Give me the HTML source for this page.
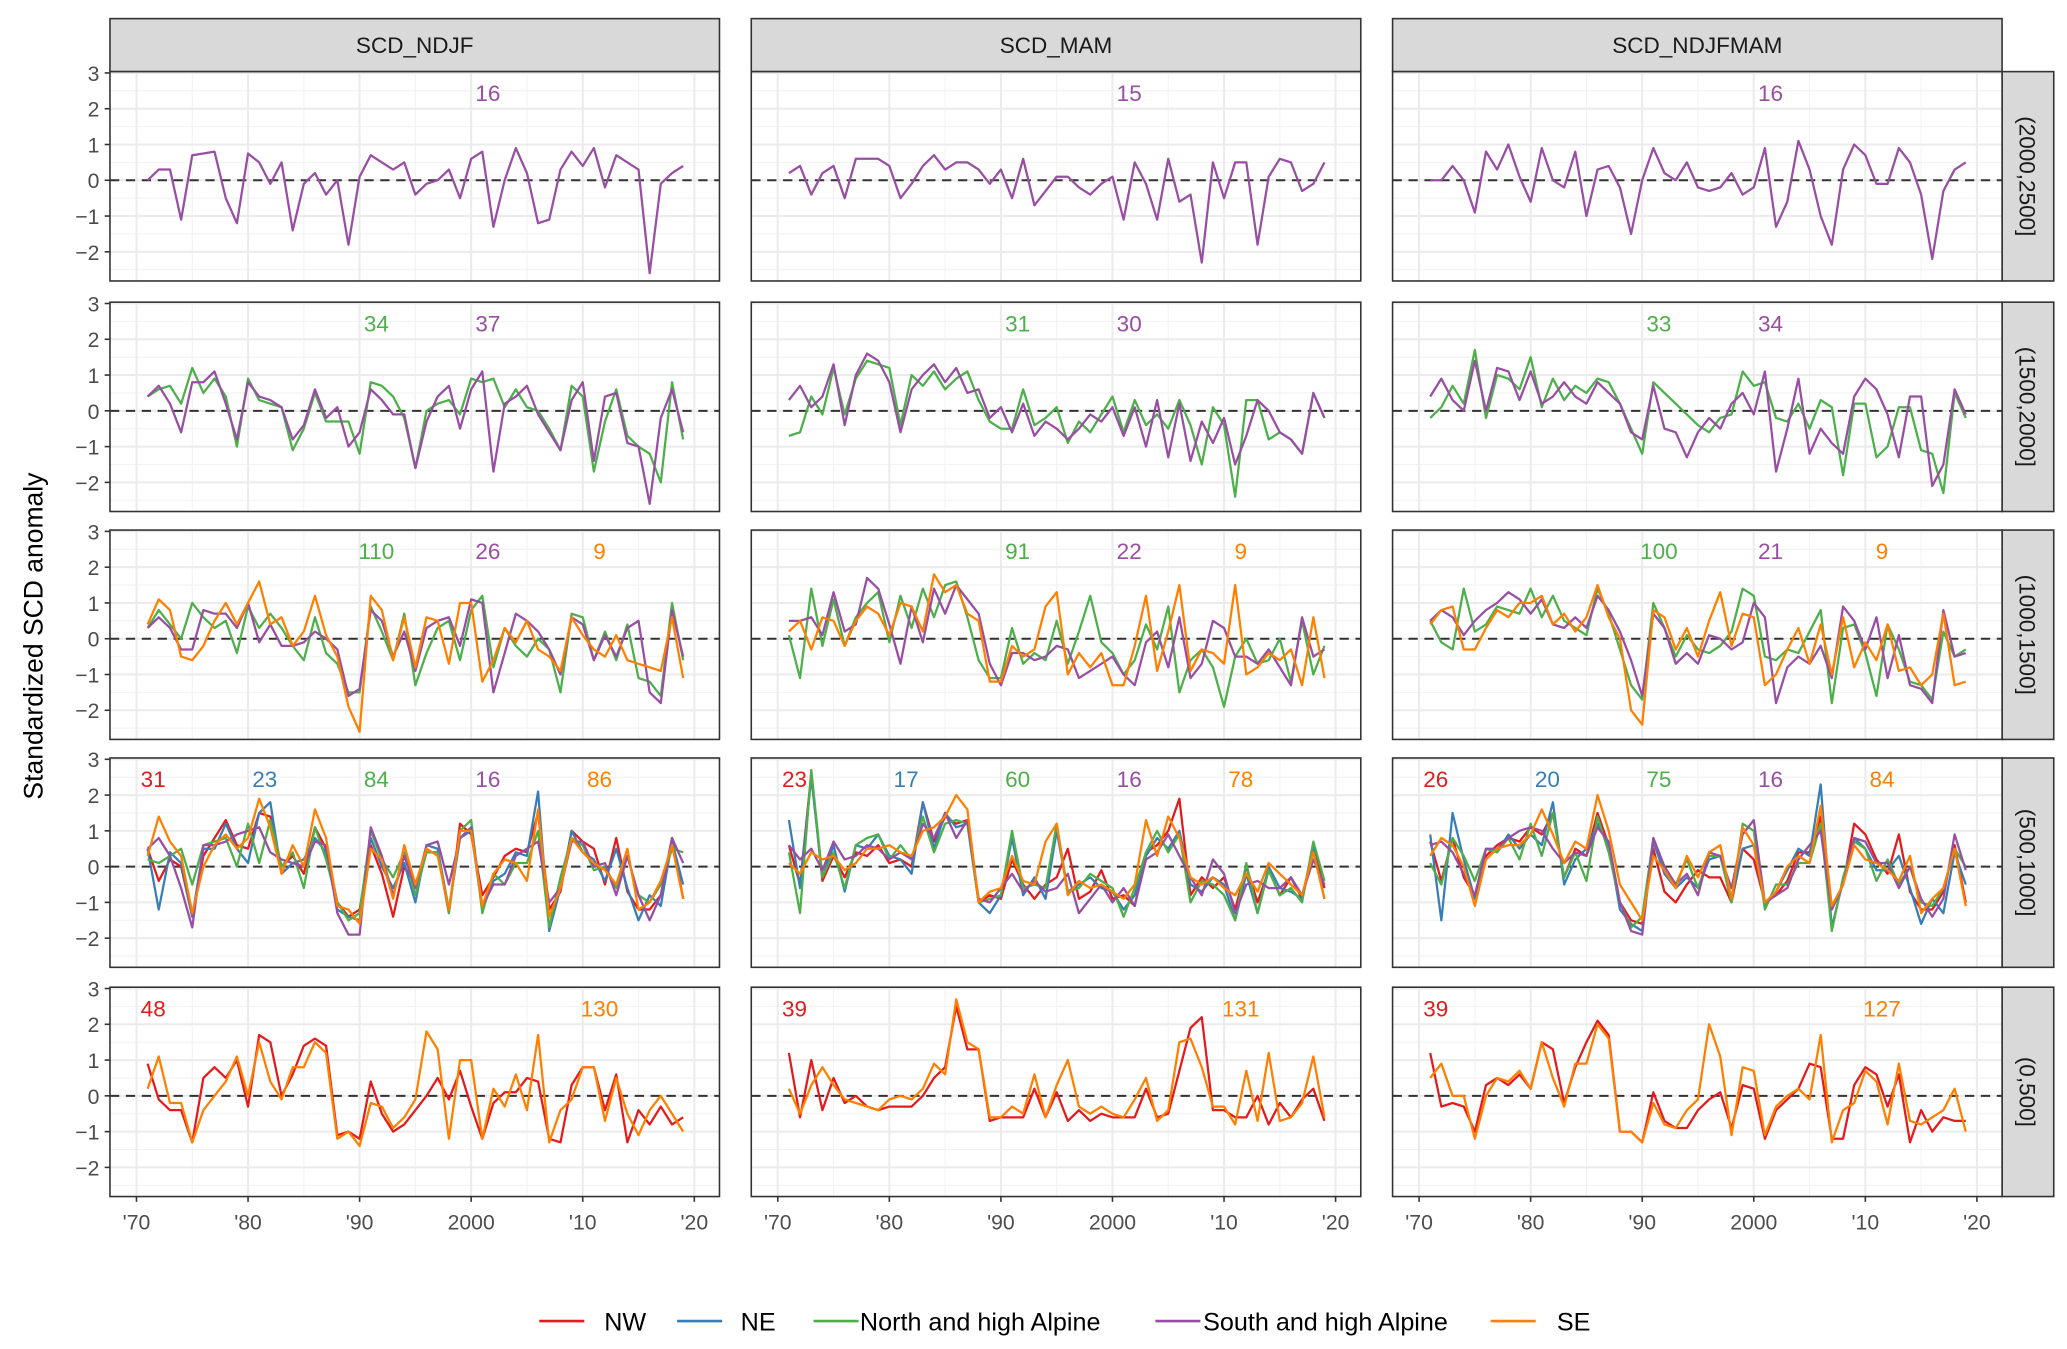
<!DOCTYPE html>
<html><head><meta charset="utf-8"><style>
html,body{margin:0;padding:0;background:#fff;}
svg{display:block;font-family:"Liberation Sans",Arial,sans-serif;}
</style></head><body>
<svg id="chart" xmlns="http://www.w3.org/2000/svg" width="2067" height="1349" viewBox="0 0 1560 1018">
<text transform="translate(32,480) rotate(-90)" text-anchor="middle" font-size="20" fill="#000">Standardized SCD anomaly</text>
<g id="panels"></g>
<g id="legend"></g>
</svg>
<script>
const seasons = ["SCD_NDJF","SCD_MAM","SCD_NDJFMAM"];
const bands = ["(2000,2500]","(1500,2000]","(1000,1500]","(500,1000]","(0,500]"];
const seriesNames = ["NW","NE","North and high Alpine","South and high Alpine","SE"];
const seriesColors = ["#E41A1C","#377EB8","#4DAF4A","#984EA3","#FF7F00"];
const yTicks = [-2,-1,0,1,2,3];
const xTickYears = [1970,1980,1990,2000,2010,2020];
const xTickLabels = ["'70","'80","'90","2000","'10","'20"];
const startYear = 1971;

// counts per [row][col] per series index (NW,NE,NAlp,SAlp,SE)
const counts = [
 [[null,null,null,16,null],[null,null,null,15,null],[null,null,null,16,null]],
 [[null,null,34,37,null],[null,null,31,30,null],[null,null,33,34,null]],
 [[null,null,110,26,9],[null,null,91,22,9],[null,null,100,21,9]],
 [[31,23,84,16,86],[23,17,60,16,78],[26,20,75,16,84]],
 [[48,null,null,null,130],[39,null,null,null,131],[39,null,null,null,127]]
];

// row 1 (2000,2500]
const r1c1_S = [0,0.3,0.3,-1.1,0.7,0.75,0.8,-0.5,-1.2,0.75,0.5,-0.1,0.5,-1.4,-0.1,0.2,-0.4,0,-1.8,0.1,0.7,0.5,0.3,0.5,-0.4,-0.1,0,0.3,-0.5,0.6,0.8,-1.3,0,0.9,0.2,-1.2,-1.1,0.3,0.8,0.4,0.9,-0.2,0.7,0.5,0.3,-2.6,-0.1,0.2,0.4];
const r1c2_S = [0.2,0.4,-0.4,0.2,0.4,-0.5,0.6,0.6,0.6,0.4,-0.5,-0.1,0.4,0.7,0.3,0.5,0.5,0.3,-0.1,0.3,-0.5,0.6,-0.7,-0.3,0.1,0.1,-0.2,-0.4,-0.1,0.1,-1.1,0.5,-0.1,-1.1,0.6,-0.6,-0.4,-2.3,0.5,-0.5,0.5,0.5,-1.8,0.1,0.6,0.5,-0.3,-0.1,0.5];
const r1c3_S = [0,0,0.4,0,-0.9,0.8,0.3,1,0.1,-0.6,0.9,0,-0.2,0.8,-1,0.3,0.4,-0.2,-1.5,0,0.9,0.2,0,0.5,-0.2,-0.3,-0.2,0.2,-0.4,-0.2,0.9,-1.3,-0.6,1.1,0.3,-1,-1.8,0.3,1,0.7,-0.1,-0.1,0.9,0.5,-0.4,-2.2,-0.3,0.3,0.5];
// row 2 (1500,2000]
const r2c1_N = [0.4,0.6,0.7,0.2,1.2,0.5,0.9,0.4,-1,0.9,0.3,0.2,0.1,-1.1,-0.5,0.5,-0.3,-0.3,-0.3,-1.2,0.8,0.7,0.4,-0.2,-1.6,0,0.2,0.3,-0.1,0.9,0.8,0.9,0.1,0.6,0.1,0,-0.5,-1.1,0.7,0.4,-1.7,-0.3,0.6,-0.7,-1,-1.2,-2,0.8,-0.8];
const r2c1_S = [0.4,0.7,0.2,-0.6,0.8,0.8,1.1,0.2,-0.8,0.8,0.4,0.3,0.1,-0.8,-0.4,0.6,-0.2,0.1,-1,-0.6,0.6,0.3,-0.1,-0.1,-1.6,-0.3,0.4,0.7,-0.5,0.6,1.1,-1.7,0.2,0.4,0.7,-0.1,-0.6,-1.1,0.3,0.8,-1.4,0.4,0.5,-0.9,-1,-2.6,-0.2,0.6,-0.6];
const r2c2_N = [-0.7,-0.6,0.4,-0.1,1.2,-0.1,0.9,1.4,1.3,1.2,-0.4,1,0.7,1.1,0.6,0.9,1.1,0.3,-0.3,-0.5,-0.5,0.6,-0.4,-0.2,0.1,-0.9,-0.3,-0.6,-0.1,0.4,-0.6,0.3,-0.4,-0.1,-0.5,0.3,-0.4,-1.5,0.1,-0.4,-2.4,0.3,0.3,-0.8,-0.6,-0.8,-1.2,0.5,-0.2];
const r2c2_S = [0.3,0.7,0.1,0.4,1.3,-0.4,1,1.6,1.4,0.8,-0.6,0.6,1,1.3,0.8,1.2,0.5,0.6,-0.2,0.1,-0.6,0.2,-0.7,-0.3,-0.5,-0.8,-0.5,-0.1,-0.3,0.1,-0.7,0.1,-1,0.3,-1.3,0.2,-1.4,-0.3,-0.9,-0.2,-1.5,-0.7,0.3,0,-0.6,-0.8,-1.2,0.5,-0.2];
const r2c3_N = [-0.2,0.1,0.7,0.2,1.7,-0.2,1,0.9,0.6,1.5,0.1,0.9,0.3,0.7,0.5,0.9,0.8,0.2,-0.5,-1.2,0.8,0.5,0.2,-0.1,-0.4,-0.6,-0.2,-0.1,1.1,0.7,0.8,-0.2,-0.3,0.2,-0.5,0.3,0.1,-1.8,0.2,0.2,-1.3,-1,0.1,0.1,-1.1,-1.2,-2.3,0.5,-0.2];
const r2c3_S = [0.4,0.9,0.3,0,1.4,0,1.2,1.1,0.3,1.1,0.2,0.4,0.8,0.4,0.2,0.8,0.5,0.2,-0.6,-0.8,0.7,-0.5,-0.6,-1.3,-0.6,-0.2,-0.5,0.2,0.5,-0.1,1.1,-1.7,-0.5,0.9,-1.2,-0.5,-0.9,-1.2,0.4,0.9,0.6,-0.1,-1.3,0.4,0.4,-2.1,-1.5,0.6,-0.1];
// row 3 (1000,1500]
const r3c1_N = [0.3,0.8,0.4,0,1,0.6,0.3,0.5,-0.4,0.9,0.3,0.7,0.3,-0.2,-0.6,0.6,-0.4,-0.7,-1.5,-1.5,0.9,0.2,-0.6,0.7,-1.3,-0.4,0.3,0.5,-0.6,0.8,1.2,-0.8,0.3,-0.2,-0.5,0,-0.3,-1.5,0.7,0.6,-0.6,0.2,-0.6,0.4,-1.1,-1.2,-1.6,1,-0.6];
const r3c1_S = [0.3,0.6,0.3,-0.3,-0.3,0.8,0.7,0.7,0.3,1,-0.1,0.4,-0.2,-0.2,-0.1,0.2,0,-0.3,-1.6,-1.4,0.8,0.5,-0.5,0.2,-0.9,0.3,0.5,0.6,-0.2,1.1,1,-1.5,-0.4,0.7,0.5,0.2,-0.3,-1,0.6,0.4,-0.6,0.1,-0.5,0.3,0.5,-1.5,-1.8,0.8,-0.5];
const r3c1_E = [0.4,1.1,0.8,-0.5,-0.6,-0.2,0.5,1,0.4,1,1.6,0.4,0.6,-0.2,0.2,1.2,0.1,-0.5,-1.9,-2.6,1.2,0.8,-0.6,0.6,-0.8,0.6,0.5,-0.7,1,1,-1.2,-0.6,0.3,-0.1,0.5,-0.3,-0.5,-0.9,0.6,0.1,-0.3,-0.5,0.1,-0.6,-0.7,-0.8,-0.9,0.6,-1.1];
const r3c2_N = [0.1,-1.1,1.4,-0.2,1.1,-0.2,0.6,1,1.3,-0.1,1.2,0.3,1.4,0.6,1.5,1.6,0.6,-0.6,-1.1,-1.1,0.3,-0.7,-0.4,-0.6,0.5,-0.7,0.2,1.2,-0.1,-0.4,-1,-0.6,0.4,-0.3,0.9,-1.5,-0.6,-0.3,-0.8,-1.9,-0.5,0,-0.7,-0.6,0,-1.2,0.5,-1,-0.2];
const r3c2_S = [0.5,0.5,0.6,0.1,1.3,0.2,0.4,1.7,1.4,0.4,-0.7,0.9,-0.1,1.4,0.7,1.5,1.1,0.7,-0.7,-1.3,-0.4,-0.4,-0.6,-0.5,-0.2,-0.3,-1.1,-0.9,-0.7,-0.5,-1,-1.3,-0.1,0.2,-0.8,0.6,-1.1,-0.7,0.5,0.3,-0.5,-0.5,-0.7,-0.3,-0.8,-1.3,0.6,-0.5,-0.3];
const r3c2_E = [0.2,0.5,-0.3,0.6,0.5,-0.2,0.5,0.9,0.7,0.1,1,0.9,0.2,1.8,1.3,1.5,0.7,0.5,-1.2,-1.2,-0.2,-0.5,-0.3,0.9,1.3,-1,-0.4,-0.8,-0.4,-1.3,-1.3,-0.2,1.2,-0.9,0.2,1.5,-0.9,-0.3,-0.4,-0.7,1.5,-1,-0.8,-0.4,-0.6,-0.3,-1.3,0.6,-1.1];
const r3c3_N = [0.5,-0.1,-0.3,1.4,0.2,0.4,0.9,0.8,0.7,1.4,0.6,1.2,0.5,0.3,0.1,1.4,0.7,-0.3,-1.3,-1.7,1,0.3,-0.5,0.1,-0.3,-0.4,-0.2,0.2,1.4,1.2,-0.5,-0.6,-0.3,-0.4,0.2,0.8,-1.8,0.3,0.4,-0.4,-1.6,0.4,-0.3,-1.2,-1.3,-1.7,0.2,-0.5,-0.3];
const r3c3_S = [0.5,0.8,0.6,0.1,0.5,0.8,1,1.3,1.1,0.7,1.1,0.4,0.3,0.6,0.3,1.2,0.8,0.2,-0.6,-1.6,0.7,0.3,-0.7,-0.4,-0.7,0.1,0,-0.3,-0.1,1,0.6,-1.8,-0.8,-0.5,-0.7,-0.2,-1.1,0.9,0.5,-0.3,0.6,-1.1,0.1,-1.3,-1.4,-1.8,0.8,-0.5,-0.4];
const r3c3_E = [0.4,0.8,0.9,-0.3,-0.3,0.3,0.8,0.6,1,1,1.2,0.4,0.7,0.2,0.6,1.5,0.6,0,-2,-2.4,0.8,0.6,-0.3,0.3,-0.5,0.5,1.3,-0.2,0.7,0.6,-1.3,-1,-0.3,0.3,-0.7,0.4,-1,0.6,-0.8,-0.1,-0.6,0.4,-0.9,-0.8,-1.3,-1,0.7,-1.3,-1.2];
// row 4 (500,1000]
const r4c1_W = [0.5,-0.4,0.2,0,-1.4,0.3,0.8,1.3,0.6,0.5,1.5,1.4,0,0.3,-0.2,1.1,0.5,-1,-1.4,-1.2,0.6,-0.2,-1.4,0,-0.5,0.4,0.4,-1.3,1.2,0.9,-0.8,-0.3,0.3,0.5,0.4,1.5,-1.2,-0.7,1,0.7,0.5,-0.5,0.8,-0.7,-1.2,-1.2,-0.8,0.8,-0.9];
const r4c1_E1 = [0.5,-1.2,0.4,0.1,-1.4,0.5,0.5,1.2,0.5,0.1,1.5,1.8,-0.2,0.1,0.2,0.8,0.4,-1.2,-1.4,-1.5,0.8,0,-0.6,0.1,-1,0.6,0.5,-1.2,0.8,1,-1.2,-0.4,-0.2,0.4,0.3,2.1,-1.8,-0.6,1,0.4,0.2,-0.4,0.5,-0.6,-1.5,-0.8,-1.1,0.7,-0.5];
const r4c1_N = [0.2,0.1,0.3,0.5,-0.5,0.6,0.7,0.8,0,1.2,0.1,1.3,0,0.4,-0.6,1.1,0.2,-1,-1.5,-1.3,1,0.2,-0.3,0.4,-0.8,0.4,0.4,-1.3,1,1.3,-1.3,-0.2,-0.5,0.1,0.1,1,-1.7,-0.3,0.8,0.6,-0.1,0,-0.6,0.3,-0.8,-1,-0.5,0.5,0.4];
const r4c1_S = [0.5,0.8,0.3,-0.6,-1.7,0.6,0.6,0.7,0.9,1,1.1,0.4,0.2,0.1,0,0.7,0.6,-1.3,-1.9,-1.9,1.1,0.3,-0.8,0.3,-0.6,0.6,0.7,-0.5,0.8,1.1,-1.1,-0.5,-0.5,0.3,0.5,0.7,-1,-0.6,0.7,0.7,0,0.1,-0.8,0.3,-0.8,-1.5,-0.8,0.8,0.1];
const r4c1_E = [0.3,1.4,0.7,0.3,-1.3,0,0.6,0.9,0.5,0.8,1.9,1.1,-0.2,0.6,0,1.6,0.8,-1.1,-1.2,-1.6,0.5,0.2,-0.9,0.6,-0.5,0.5,0.3,-1.2,1,1,-1.1,-0.2,0.2,0.1,-0.4,1.6,-1.4,-0.6,0.8,0.4,0.1,-0.1,-0.5,0.5,-1.2,-1,-0.4,0.6,-0.9];
const r4c2_W = [0.6,-0.5,2.6,-0.4,0.3,-0.3,0.4,0.3,0.6,0.1,0.2,0,1.8,0.7,1.4,1.2,1.3,-1,-0.8,-0.9,0.2,-0.5,-0.9,-0.5,-0.3,0.5,-0.9,-0.7,-0.1,-0.9,-0.8,-1.1,0.4,0.6,1,1.9,-0.8,-0.3,-0.6,-0.3,-1.2,0,-1,-0.1,-0.8,-0.3,-0.9,0.6,-0.6];
const r4c2_E1 = [1.3,-0.6,2.5,-0.3,0.6,-0.7,0.6,0.5,0.9,0.3,0.2,-0.2,1.8,0.5,1.5,1.1,1.2,-1,-1.3,-0.8,0.8,-0.8,-0.3,-0.9,1,-0.7,-0.5,-0.3,-0.6,-0.7,-1.2,-0.8,0.3,0.8,0.5,1,-0.5,-0.7,-0.3,-0.5,-1.5,-0.2,-1.3,0,-0.6,-0.7,-0.9,0.5,-0.9];
const r4c2_N = [0.4,-1.3,2.7,-0.3,0.4,-0.6,0.6,0.8,0.9,0.2,0.6,0.2,1.4,0.4,1.2,1.3,1.2,-1,-0.9,-0.8,1,-0.6,-0.5,-0.6,1.2,-0.7,-0.6,-0.2,-0.4,-0.6,-1.4,-0.6,0.4,1,0.4,0.9,-1,-0.4,-0.5,-0.8,-1.5,0.1,-1.3,-0.1,-0.8,-0.6,-1,0.7,-0.4];
const r4c2_S = [0.6,0.2,0.5,-0.1,0.7,0.2,0.3,0.6,0.5,0.2,0.4,0.2,1.2,0.8,1.5,0.8,1.3,-0.9,-1,-0.6,-0.2,-0.7,-0.4,-0.7,-0.6,-0.2,-1.3,-0.9,-0.5,-1,-0.6,-1.1,0.2,0.4,0.9,0.3,-0.3,-0.8,0.2,-0.2,-1.3,-0.5,-0.4,-0.6,-0.6,-0.3,-0.8,0.2,-0.5];
const r4c2_E = [0.1,-0.2,0.4,0.2,0.3,-0.1,0.1,0.5,0.5,0.6,0.4,0.3,1,1.1,1.4,2,1.6,-1,-0.7,-0.6,0.3,-0.4,-0.5,0.7,1.2,-0.8,-0.4,-0.6,-0.5,-0.7,-0.9,-0.5,1.3,0.3,1.4,0.8,-0.3,-0.5,-0.3,-0.6,-0.8,-0.2,-0.7,0.1,-0.2,-0.5,-0.8,0.4,-0.9];
const r4c3_W = [0.7,-0.4,0.8,-0.3,-0.8,0.3,0.6,0.8,0.7,1.1,0.9,1.5,-0.3,0.5,0.3,1.5,0.6,-1,-1.5,-1.6,0.5,-0.7,-1,-0.5,-0.1,-0.3,-0.3,-1,0.5,0.2,-1,-0.8,-0.4,0.4,0.4,1.4,-1.2,-0.5,1.2,0.9,0.2,-0.2,0.9,-0.7,-1.2,-1.2,-0.7,0.6,-1];
const r4c3_E1 = [0.9,-1.5,1.5,0.2,-0.9,0.5,0.4,0.9,0.5,0.9,0.6,1.8,-0.5,0.2,0.5,1.2,0.6,-1.2,-1.6,-1.8,0.7,-0.2,-0.6,-0.3,-0.6,0.2,0.3,-0.9,0.5,0.6,-1.1,-0.7,-0.1,0.5,0.3,2.3,-1.7,-0.4,0.8,0.5,-0.1,-0.1,0.3,-0.6,-1.6,-0.9,-1.3,0.4,-0.5];
const r4c3_N = [0.1,-0.5,0.8,0.3,-0.4,0.5,0.4,0.8,0.2,1.2,0.3,1.5,-0.3,0.4,-0.4,1.4,0.4,-1,-1.7,-1.4,0.8,0,-0.5,0.2,-0.6,0.3,0.3,-1,1.2,1,-1.2,-0.5,-0.5,0.1,0.1,1.2,-1.8,-0.3,0.7,0.5,-0.4,0.2,-0.5,0,-1,-1.1,-0.6,0.5,0];
const r4c3_S = [0.6,0.7,0.4,-0.2,-0.8,0.5,0.5,0.8,1,1.1,1,0.5,0.1,0.4,0.3,1.1,0.7,-1,-1.8,-1.9,0.8,0,-0.5,-0.2,-0.8,0.4,0.3,-0.6,0.9,1.3,-1,-0.8,-0.6,0.2,0.6,1,-1.2,-0.5,0.8,0.7,0.1,0.1,-0.6,0,-0.9,-1.4,-0.9,0.9,-0.1];
const r4c3_E = [0.3,0.8,0.6,0,-1.1,0.2,0.5,0.6,0.6,0.9,1.6,0.9,0.1,0.7,0.5,2,1,-0.5,-1,-1.5,0.3,-0.1,-0.6,0.3,-0.3,0.4,0.6,-0.9,1.1,0.6,-1,-0.7,0,0.3,0.1,1.7,-1.1,-0.5,0.6,0.2,0.1,-0.1,-0.4,0.3,-1.3,-0.9,-0.6,0.5,-1.1];
// row 5 (0,500]
const r5c1_W = [0.9,-0.1,-0.4,-0.4,-1.3,0.5,0.8,0.5,1,-0.3,1.7,1.5,0,0.6,1.4,1.6,1.4,-1.1,-1,-1.2,0.4,-0.5,-1,-0.8,-0.4,0,0.5,-0.1,0.7,-0.3,-1.2,-0.2,0.1,0.1,0.5,0.4,-1.2,-1.3,0.3,0.8,0.8,-0.4,0.6,-1.3,-0.4,-0.8,-0.3,-0.8,-0.6];
const r5c1_E = [0.2,1.1,-0.2,-0.2,-1.3,-0.4,0,0.4,1.1,0,1.5,0.4,-0.1,0.8,0.8,1.5,1.2,-1.2,-1,-1.4,-0.2,-0.3,-0.9,-0.6,-0.1,1.8,1.3,-1.2,1,1,-1.2,0.2,-0.3,0.6,-0.4,1.7,-1.3,-0.4,-0.1,0.8,0.8,-0.7,0.5,-0.5,-1.1,-0.4,0,-0.5,-1];
const r5c2_W = [1.2,-0.6,1,-0.4,0.5,-0.2,0,-0.3,-0.4,-0.3,-0.3,-0.3,0,0.5,0.8,2.5,1.3,1.3,-0.7,-0.6,-0.6,-0.6,0.2,-0.6,0.1,-0.7,-0.4,-0.7,-0.5,-0.6,-0.6,-0.6,0.2,-0.6,-0.5,0.7,1.9,2.2,-0.4,-0.4,-0.6,-0.6,0,-0.8,-0.2,-0.6,-0.1,0.2,-0.7];
const r5c2_E = [0.2,-0.5,0.3,0.8,0.3,-0.1,-0.2,-0.3,-0.4,-0.1,0,-0.1,0.2,0.9,0.6,2.7,1.5,1.3,-0.6,-0.6,-0.3,-0.5,0.6,-0.6,0.3,1,-0.3,-0.5,-0.3,-0.5,-0.6,-0.1,0.5,-0.7,-0.4,1.5,1.6,0.8,-0.3,-0.3,-0.8,0.7,-0.7,1.2,-0.7,-0.6,-0.2,1.1,-0.6];
const r5c3_W = [1.2,-0.3,-0.2,-0.3,-1,0.3,0.5,0.3,0.6,0.2,1.5,1.3,-0.2,0.8,1.5,2.1,1.7,-1,-1,-1.3,0.1,-0.7,-0.9,-0.9,-0.4,-0.1,0.1,-0.9,0.3,0.2,-1.2,-0.4,-0.1,0.2,0.9,0.8,-1.2,-1.2,0.3,0.8,0.6,-0.3,0.6,-1.3,-0.4,-1,-0.6,-0.7,-0.7];
const r5c3_E = [0.5,0.9,0,0,-1.2,0,0.5,0.4,0.7,0.2,1.5,0.5,-0.3,0.9,0.9,2,1.6,-1,-1,-1.3,-0.2,-0.8,-0.9,-0.4,-0.1,2,1.1,-1.1,0.8,0.7,-1.1,-0.3,0,0.2,-0.1,1.7,-1.3,-0.4,-0.2,0.7,0.4,-0.8,0.9,-0.7,-0.8,-0.6,-0.4,0.2,-1];

// series per panel: [NW, NE, NAlp, SAlp, SE]
const panelSeries = [
 [[null,null,null,r1c1_S,null],[null,null,null,r1c2_S,null],[null,null,null,r1c3_S,null]],
 [[null,null,r2c1_N,r2c1_S,null],[null,null,r2c2_N,r2c2_S,null],[null,null,r2c3_N,r2c3_S,null]],
 [[null,null,r3c1_N,r3c1_S,r3c1_E],[null,null,r3c2_N,r3c2_S,r3c2_E],[null,null,r3c3_N,r3c3_S,r3c3_E]],
 [[r4c1_W,r4c1_E1,r4c1_N,r4c1_S,r4c1_E],[r4c2_W,r4c2_E1,r4c2_N,r4c2_S,r4c2_E],[r4c3_W,r4c3_E1,r4c3_N,r4c3_S,r4c3_E]],
 [[r5c1_W,null,null,null,r5c1_E],[r5c2_W,null,null,null,r5c2_E],[r5c3_W,null,null,null,r5c3_E]]
];
const labelYears = [1971.5,1981.5,1991.5,2001.5,2011.5];
</script>
<script>
const NS="http://www.w3.org/2000/svg";
const g=document.getElementById('panels');
const colLeft=[83,567,1051], panelW=460;
const rowTop=[54,228,400,572,745], panelH=158;
function mk(tag,attrs,parent){const e=document.createElementNS(NS,tag);for(const k in attrs)e.setAttribute(k,attrs[k]);(parent||g).appendChild(e);return e;}
function xs(c,yr){return colLeft[c]+20+(yr-1970)*8.42;}
function ys(r,v){return rowTop[r]+82-27*v;}

// top strips
seasons.forEach((s,c)=>{
  const r=mk('rect',{x:colLeft[c],y:14,width:panelW,height:40,fill:'#D9D9D9',stroke:'#333','stroke-width':1.2});
  
  
  const t=mk('text',{x:colLeft[c]+panelW/2,y:40,'text-anchor':'middle','font-size':17,fill:'#1a1a1a'});
  t.textContent=s;
  
  
});
// right strips
bands.forEach((b,r)=>{
  const rc=mk('rect',{x:1511,y:rowTop[r],width:39,height:panelH,fill:'#D9D9D9',stroke:'#333','stroke-width':1.2});
  
  
  const cx=1530, cy=rowTop[r]+panelH/2;
  const t=mk('text',{x:cx,y:cy,'text-anchor':'middle','font-size':17,fill:'#1a1a1a',transform:`rotate(90 ${cx} ${cy}) translate(0 6)`});
  t.textContent=b;
  
  
});

for(let r=0;r<5;r++){
  for(let c=0;c<3;c++){
    const pg=mk('g',{});
    
    
    const L=colLeft[c],T=rowTop[r];
    mk('rect',{x:L,y:T,width:panelW,height:panelH,fill:'#fff'},pg);
    // minor grid
    for(let yr=1975;yr<=2015;yr+=10) mk('line',{x1:xs(c,yr),x2:xs(c,yr),y1:T,y2:T+panelH,stroke:'#F2F2F2','stroke-width':0.8},pg);
    for(let v=-2.5;v<=2.5;v+=1) mk('line',{x1:L,x2:L+panelW,y1:ys(r,v),y2:ys(r,v),stroke:'#F2F2F2','stroke-width':0.8},pg);
    xTickYears.forEach(yr=>mk('line',{x1:xs(c,yr),x2:xs(c,yr),y1:T,y2:T+panelH,stroke:'#EBEBEB','stroke-width':1.5},pg));
    yTicks.forEach(v=>mk('line',{x1:L,x2:L+panelW,y1:ys(r,v),y2:ys(r,v),stroke:'#EBEBEB','stroke-width':1.5},pg));
    mk('line',{x1:L,x2:L+panelW,y1:ys(r,0),y2:ys(r,0),stroke:'#333','stroke-width':1.5,'stroke-dasharray':'7,5'},pg);
    const ser=panelSeries[r][c];
    ser.forEach((arr,i)=>{
      if(!arr) return;
      const pts=arr.map((v,k)=>xs(c,startYear+k).toFixed(1)+','+ys(r,v).toFixed(1)).join(' ');
      const pl=mk('polyline',{points:pts,fill:'none',stroke:seriesColors[i],'stroke-width':1.7,'stroke-linejoin':'round'},pg);
      
      
    });
    counts[r][c].forEach((n,i)=>{
      if(n===null) return;
      const t=mk('text',{x:xs(c,labelYears[i]),y:T+22,'text-anchor':'middle','font-size':17,fill:seriesColors[i]},pg);
      t.textContent=n;
      
      
    });
    mk('rect',{x:L,y:T,width:panelW,height:panelH,fill:'none',stroke:'#333','stroke-width':1.2},pg);
    if(c===0){
      yTicks.forEach(v=>{
        mk('line',{x1:L-4,x2:L,y1:ys(r,v),y2:ys(r,v),stroke:'#333','stroke-width':1.2},pg);
        const t=mk('text',{x:L-8,y:ys(r,v)+6,'text-anchor':'end','font-size':16,fill:'#4D4D4D'},pg);
        t.textContent=(v<0?'\u2212'+(-v):v);
        
        
      });
    }
    if(r===4){
      xTickYears.forEach((yr,k)=>{
        mk('line',{x1:xs(c,yr),x2:xs(c,yr),y1:T+panelH,y2:T+panelH+4,stroke:'#333','stroke-width':1.2},pg);
        const t=mk('text',{x:xs(c,yr),y:T+panelH+25,'text-anchor':'middle','font-size':16,fill:'#4D4D4D'},pg);
        t.textContent=xTickLabels[k];
        
        
      });
    }
  }
}
// legend
const lg=document.getElementById('legend');
const legX=[407,511,614,872,1125], legTX=[456,559,649,908,1175];
seriesNames.forEach((n,i)=>{
  const ln=mk('line',{x1:legX[i],x2:legX[i]+34,y1:997,y2:997,stroke:seriesColors[i],'stroke-width':2},lg);
  
  
  const t=mk('text',{x:legTX[i],y:1004,'font-size':19,fill:'#000'},lg);
  t.textContent=n;
  
  
});
</script>
</body></html>
